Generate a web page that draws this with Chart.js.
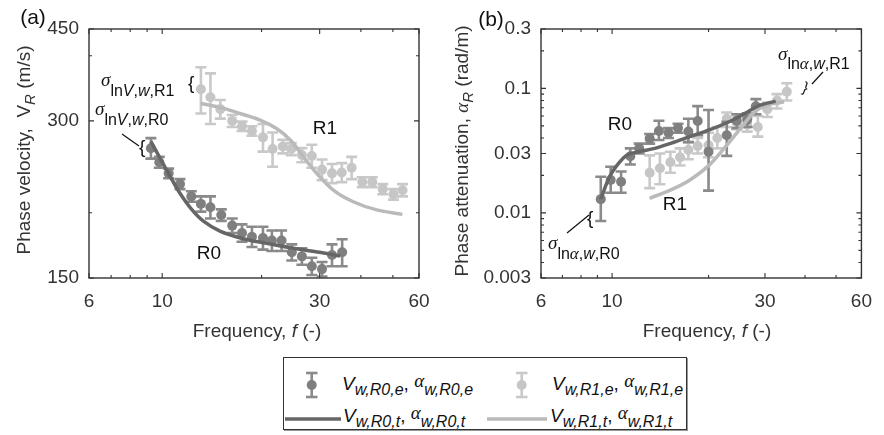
<!DOCTYPE html>
<html>
<head>
<meta charset="utf-8">
<script src="https://cdn.jsdelivr.net/npm/chart.js@4.4.1/dist/chart.umd.min.js"></script>
<style>
  body { margin: 0; background: #fff; }
  #wrap { position: relative; width: 884px; height: 435px; overflow: hidden;
          font-family: 'Liberation Sans', Arial, sans-serif; color: #333; }
  canvas { position: absolute; top: 0; }
  .t { position: absolute; white-space: nowrap; line-height: 1; }
  .c { transform: translate(-50%, -50%); }
  .rot { transform: translate(-50%, -50%) rotate(-90deg); }
  .gr { font-family: 'Liberation Serif', 'DejaVu Serif', serif; font-style: italic; }
  .blk { color: #111; }
  .ls { font-size: 16px; font-style: italic; position: relative; top: 5px; }
</style>
</head>
<body>
<div id="wrap">
  <canvas id="chartA" width="442" height="345" style="left:0"></canvas>
  <canvas id="chartB" width="442" height="345" style="left:442px"></canvas>

  <!-- panel labels and axis titles -->
  <div class="t c blk" style="left:33px;top:16px;font-size:21px">(a)</div>
  <div class="t c blk" style="left:491px;top:18px;font-size:21px">(b)</div>
  <div class="t rot" style="left:23px;top:150px;font-size:19px">Phase velocity,&nbsp; V<span style="font-size:15px;font-style:italic;position:relative;top:5px">R</span> (m/s)</div>
  <div class="t rot" style="left:461px;top:151px;font-size:19px">Phase attenuation, <span class="gr">&alpha;</span><span style="font-size:15px;font-style:italic;position:relative;top:5px">R</span> (rad/m)</div>
  <div class="t c" style="left:257px;top:330px;font-size:19px">Frequency, <i>f</i> (-)</div>
  <div class="t c" style="left:707px;top:330px;font-size:19px">Frequency, <i>f</i> (-)</div>

  <!-- curve labels -->
  <div class="t c blk" style="left:325px;top:127px;font-size:19px">R1</div>
  <div class="t c blk" style="left:209px;top:252px;font-size:19px">R0</div>
  <div class="t c blk" style="left:620px;top:123px;font-size:19px">R0</div>
  <div class="t c blk" style="left:675px;top:203px;font-size:19px">R1</div>

  <!-- sigma annotations -->
  <div class="t blk" style="left:101px;top:70px"><span class="gr" style="font-size:19px">&sigma;</span><span style="font-size:16px;position:relative;top:10px">ln<i>V</i>,<i>w</i>,R1</span></div>
  <div class="t blk" style="left:95px;top:99px"><span class="gr" style="font-size:19px">&sigma;</span><span style="font-size:16px;position:relative;top:10px">ln<i>V</i>,<i>w</i>,R0</span></div>
  <div class="t blk" style="left:778px;top:44px"><span class="gr" style="font-size:19px">&sigma;</span><span style="font-size:16px;position:relative;top:9px">ln<span class="gr" style="font-size:17px">&alpha;</span>,<i>w</i>,R1</span></div>
  <div class="t blk" style="left:548px;top:233px"><span class="gr" style="font-size:19px">&sigma;</span><span style="font-size:16px;position:relative;top:10px">ln<span class="gr" style="font-size:17px">&alpha;</span>,<i>w</i>,R0</span></div>

  <!-- legend box -->
  <div style="position:absolute;left:283px;top:357px;width:402px;height:71px;border:1px solid #333;box-shadow:1px 1px 0 #999"></div>
  <div class="t blk" style="left:342px;top:374px;font-size:19px"><i>V</i><span class="ls">w,R0,e</span>, <span class="gr" style="position:relative;top:-3px">&alpha;</span><span class="ls">w,R0,e</span></div>
  <div class="t blk" style="left:552px;top:374px;font-size:19px"><i>V</i><span class="ls">w,R1,e</span>, <span class="gr" style="position:relative;top:-3px">&alpha;</span><span class="ls">w,R1,e</span></div>
  <div class="t blk" style="left:343px;top:406px;font-size:19px"><i>V</i><span class="ls">w,R0,t</span>, <span class="gr" style="position:relative;top:-3px">&alpha;</span><span class="ls">w,R0,t</span></div>
  <div class="t blk" style="left:550px;top:406px;font-size:19px"><i>V</i><span class="ls">w,R1,t</span>, <span class="gr" style="position:relative;top:-3px">&alpha;</span><span class="ls">w,R1,t</span></div>

  <svg width="884" height="435" style="position:absolute;left:0;top:0;pointer-events:none">
    <!-- annotation leaders and braces -->
    <line x1="122" y1="134" x2="139" y2="146" stroke="#111" stroke-width="1.2"/>
    <text x="139" y="153" font-family="Liberation Sans" font-size="19" fill="#111">{</text>
    <text x="188" y="89" font-family="Liberation Sans" font-size="19" fill="#111">{</text>
    <line x1="823" y1="72" x2="812" y2="84" stroke="#111" stroke-width="1.2"/>
    <text x="803" y="93" font-family="Liberation Sans" font-size="15" fill="#111" transform="rotate(20 807 88)">}</text>
    <line x1="567" y1="233" x2="589" y2="215" stroke="#111" stroke-width="1.2"/>
    <text x="587" y="224" font-family="Liberation Sans" font-size="19" fill="#111">{</text>
    <!-- legend icons -->
    <g stroke="#8a8a8a" stroke-width="2.6">
      <line x1="311.7" y1="373" x2="311.7" y2="397"/><line x1="306" y1="373" x2="317.5" y2="373"/><line x1="306" y1="397" x2="317.5" y2="397"/>
    </g>
    <circle cx="311.7" cy="385" r="5" fill="#7f7f7f"/>
    <g stroke="#c9c9c9" stroke-width="2.6">
      <line x1="521.7" y1="373" x2="521.7" y2="397"/><line x1="516" y1="373" x2="527.5" y2="373"/><line x1="516" y1="397" x2="527.5" y2="397"/>
    </g>
    <circle cx="521.7" cy="385" r="5" fill="#c6c6c6"/>
    <line x1="285" y1="419" x2="341" y2="419" stroke="#666" stroke-width="3.5"/>
    <line x1="487" y1="419" x2="547" y2="419" stroke="#bababa" stroke-width="3.5"/>
  </svg>
</div>

<script>
// (a) phase velocity, R0 experimental
var fVelR0 = [9.24, 9.80, 10.46, 11.32, 12.25, 13.1, 14.0, 15.1, 16.3, 17.45, 18.7, 20.2, 21.5, 23.0, 24.7, 26.5, 28.4, 30.5, 32.7, 35.1];
var velR0 = [266, 250, 238, 227, 215, 208, 205, 198, 189, 183, 180, 179, 177, 177, 168, 165, 158, 156, 166, 168];
var velR0Err = [12, 6, 5, 5, 5, 7, 10, 5, 6, 7, 8, 9, 8, 8, 6, 6, 6, 5, 8, 10];
// (a) phase velocity, R1 experimental
var fVelR1 = [13.1, 14.0, 15.0, 16.3, 17.45, 18.7, 20.2, 21.6, 23.2, 24.6, 26.5, 28.4, 30.5, 32.7, 35.0, 37.5, 40.4, 43.3, 46.6, 50.2, 53.5];
var velR1 = [345, 333, 316, 300, 293, 287, 279, 265, 268, 265, 258, 257, 242, 238, 239, 244, 229, 229, 222, 217, 221];
var velR1Err = [35, 37, 13, 8, 6, 6, 17, 20, 8, 7, 8, 13, 11, 10, 10, 12, 5, 5, 5, 5, 6];
// (a) theoretical curves
var fVelR0t = [9.24, 9.80, 10.56, 11.32, 12.28, 13.3, 14.96, 17.6, 20.7, 25.0, 30.0, 34.6];
var velR0t = [274, 256, 235, 218, 203, 193, 184.5, 178.4, 174.8, 171, 168, 165.3];
var fVelR1t = [13.1, 14.96, 17.2, 19.8, 22.2, 24.4, 26.8, 29.4, 33.0, 37.9, 44.7, 53.4];
var velR1t = [324, 318.5, 310, 301, 290, 276, 256, 238, 221, 210, 202.6, 198.6];

// (b) phase attenuation, R0 experimental
var fAttR0 = [9.22, 9.9, 10.67, 11.4, 12.15, 13.1, 14.0, 15.0, 16.06, 17.3, 18.5, 20.0, 22.8, 24.5, 26.4, 28.1];
var attR0 = [0.0129, 0.0184, 0.0178, 0.0285, 0.033, 0.0395, 0.0455, 0.044, 0.048, 0.045, 0.0547, 0.031, 0.042, 0.055, 0.056, 0.072];
var attR0Lo = [0.0086, 0.0145, 0.0145, 0.0245, 0.030, 0.036, 0.0385, 0.040, 0.044, 0.037, 0.042, 0.0151, 0.0287, 0.048, 0.049, 0.062];
var attR0Hi = [0.0195, 0.0235, 0.0215, 0.033, 0.036, 0.043, 0.055, 0.048, 0.052, 0.057, 0.072, 0.067, 0.054, 0.062, 0.063, 0.082];
// (b) phase attenuation, R1 experimental
var fAttR1 = [13.1, 14.1, 15.2, 16.3, 17.3, 18.5, 20.0, 21.3, 22.8, 24.5, 26.4, 28.5, 30.5, 32.7, 35.1];
var attR1 = [0.021, 0.0228, 0.0255, 0.028, 0.032, 0.0345, 0.035, 0.040, 0.057, 0.053, 0.051, 0.049, 0.068, 0.08, 0.094];
var attR1Lo = [0.0158, 0.017, 0.021, 0.024, 0.027, 0.030, 0.028, 0.033, 0.049, 0.047, 0.045, 0.041, 0.059, 0.069, 0.08];
var attR1Hi = [0.029, 0.030, 0.031, 0.033, 0.037, 0.040, 0.044, 0.049, 0.064, 0.060, 0.058, 0.060, 0.077, 0.09, 0.11];
// (b) theoretical curves
var fAttR0t = [9.22, 9.82, 10.52, 11.15, 12.1, 13.6, 15.25, 17.5, 20.1, 23.2, 26.0, 28.5, 32.4];
var attR0t = [0.0129, 0.0195, 0.0253, 0.0292, 0.031, 0.033, 0.0362, 0.041, 0.0464, 0.054, 0.063, 0.0722, 0.079];
var fAttR1t = [13.1, 15.25, 17.5, 20.1, 22.6, 25.4, 27.9, 30.5, 34.4];
var attR1t = [0.0131, 0.0153, 0.0184, 0.0242, 0.034, 0.049, 0.065, 0.0735, 0.078];

// axis ticks
var freqTicks = [6, 7, 8, 9, 10, 20, 30, 40, 50, 60];
var freqLabels = [6, 10, 30, 60];
var velTicks = [150, 200, 300, 400, 450];
var velLabels = [150, 300, 450];
var attTicks = [0.003, 0.004, 0.005, 0.006, 0.007, 0.008, 0.009, 0.01, 0.02, 0.03, 0.04, 0.05, 0.06, 0.07, 0.08, 0.09, 0.1, 0.2, 0.3];
var attLabels = [0.003, 0.01, 0.03, 0.1, 0.3];

var FONT = 'Liberation Sans';
var C_R0 = '#7f7f7f', C_R0_ERR = '#8a8a8a', C_R0_LINE = '#666666';
var C_R1 = '#c6c6c6', C_R1_ERR = '#c9c9c9', C_R1_LINE = '#bababa';

function pts(xs, ys) {
    return xs.map(function (x, i) { return {x: x, y: ys[i]}; });
}

// error bars drawn just before each dataset's markers
var errorBars = {
    id: 'errorBars',
    beforeDatasetDraw: function (chart, args) {
        var ds = chart.data.datasets[args.index];
        if (!ds.errLo) return;
        var ctx = chart.ctx, xs = chart.scales.x, ys = chart.scales.y;
        ctx.save();
        ctx.strokeStyle = ds.errColor;
        ctx.lineWidth = 2.6;
        ds.data.forEach(function (p, i) {
            var x = xs.getPixelForValue(p.x);
            var y1 = ys.getPixelForValue(ds.errLo[i]);
            var y2 = ys.getPixelForValue(ds.errHi[i]);
            ctx.beginPath();
            ctx.moveTo(x, y1); ctx.lineTo(x, y2);
            ctx.moveTo(x - 5.5, y1); ctx.lineTo(x + 5.5, y1);
            ctx.moveTo(x - 5.5, y2); ctx.lineTo(x + 5.5, y2);
            ctx.stroke();
        });
        ctx.restore();
    }
};

// matlab style box with inward ticks on all sides
var boxTicks = {
    id: 'boxTicks',
    afterDraw: function (chart, args, opts) {
        var ctx = chart.ctx, a = chart.chartArea;
        var xs = chart.scales.x, ys = chart.scales.y;
        ctx.save();
        ctx.strokeStyle = '#333';
        ctx.lineWidth = 1.4;
        ctx.strokeRect(a.left, a.top, a.right - a.left, a.bottom - a.top);
        ctx.lineWidth = 1.1;
        ctx.beginPath();
        opts.xTicks.forEach(function (v) {
            var px = xs.getPixelForValue(v);
            var len = opts.xMajor.indexOf(v) >= 0 ? 5 : 3;
            ctx.moveTo(px, a.bottom); ctx.lineTo(px, a.bottom - len);
            ctx.moveTo(px, a.top); ctx.lineTo(px, a.top + len);
        });
        opts.yTicks.forEach(function (v) {
            var py = ys.getPixelForValue(v);
            var len = opts.yMajor.indexOf(v) >= 0 ? 5 : 3;
            ctx.moveTo(a.left, py); ctx.lineTo(a.left + len, py);
            ctx.moveTo(a.right, py); ctx.lineTo(a.right - len, py);
        });
        ctx.stroke();
        ctx.restore();
    }
};

function logAxis(min, max, ticks, labels, size, horizontal, pad) {
    return {
        type: 'logarithmic',
        min: min,
        max: max,
        grid: {display: false, drawTicks: false},
        border: {display: false},
        ticks: {
            autoSkip: false,
            maxRotation: 0,
            padding: pad,
            color: '#333',
            font: {family: FONT, size: 19},
            callback: function (v) { return labels.indexOf(v) >= 0 ? String(v) : ''; }
        },
        afterBuildTicks: function (scale) {
            scale.ticks = ticks.map(function (v) { return {value: v}; });
        },
        afterFit: function (scale) {
            if (horizontal) scale.height = size; else scale.width = size;
        }
    };
}

function makeChart(id, sets, yMin, yMax, yTicks, yLabels, yWidth, padRight) {
    return new Chart(document.getElementById(id), {
        type: 'scatter',
        data: {datasets: sets},
        options: {
            responsive: false,
            animation: false,
            events: [],
            layout: {padding: {top: 29, right: padRight, bottom: 0, left: 0}, autoPadding: false},
            plugins: {
                legend: {display: false},
                tooltip: {enabled: false},
                boxTicks: {xTicks: freqTicks, xMajor: freqLabels, yTicks: yTicks, yMajor: yLabels}
            },
            scales: {
                x: logAxis(6, 60, freqTicks, freqLabels, 67, true, 12),
                y: logAxis(yMin, yMax, yTicks, yLabels, yWidth, false, 10)
            }
        },
        plugins: [errorBars, boxTicks]
    });
}

function lineSet(xs, ys, color) {
    return {data: pts(xs, ys), showLine: true, borderColor: color, borderWidth: 3.5,
            pointRadius: 0, tension: 0.35, fill: false};
}
function pointSet(xs, ys, lo, hi, color, errColor) {
    return {data: pts(xs, ys), showLine: false, pointRadius: 5, pointBorderWidth: 0,
            pointBackgroundColor: color, backgroundColor: color, borderColor: color,
            errLo: lo, errHi: hi, errColor: errColor};
}

makeChart('chartA', [
    lineSet(fVelR0t, velR0t, C_R0_LINE),
    lineSet(fVelR1t, velR1t, C_R1_LINE),
    pointSet(fVelR0, velR0, velR0.map(function (v, i) { return v - velR0Err[i]; }),
             velR0.map(function (v, i) { return v + velR0Err[i]; }), C_R0, C_R0_ERR),
    pointSet(fVelR1, velR1, velR1.map(function (v, i) { return v - velR1Err[i]; }),
             velR1.map(function (v, i) { return v + velR1Err[i]; }), C_R1, C_R1_ERR)
], 150, 450, velTicks, velLabels, 89, 23);

makeChart('chartB', [
    lineSet(fAttR0t, attR0t, C_R0_LINE),
    lineSet(fAttR1t, attR1t, C_R1_LINE),
    pointSet(fAttR0, attR0, attR0Lo, attR0Hi, C_R0, C_R0_ERR),
    pointSet(fAttR1, attR1, attR1Lo, attR1Hi, C_R1, C_R1_ERR)
], 0.003, 0.3, attTicks, attLabels, 99, 12);
</script>
</body>
</html>
